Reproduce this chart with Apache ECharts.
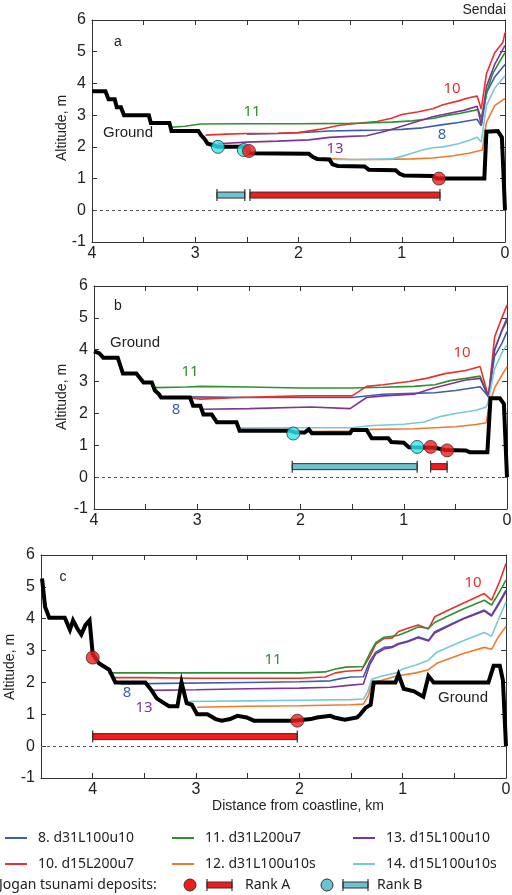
<!DOCTYPE html>
<html>
<head>
<meta charset="utf-8">
<title>Jogan tsunami inundation profiles</title>
<script src="https://cdn.jsdelivr.net/npm/echarts@6/dist/echarts.min.js"></script>
<style>
  html, body { margin: 0; padding: 0; background: #fff; }
  #chart { width: 512px; height: 895px; }
</style>
</head>
<body>
<div id="chart"></div>
<script>
// x = distance from coastline (km), y = altitude (m)

// panel a
const groundA = [[4.0,3.75],[3.87,3.75],[3.84,3.5],[3.78,3.5],[3.76,3.25],[3.72,3.25],[3.69,3.0],[3.45,3.0],[3.43,2.75],[3.25,2.75],[3.23,2.5],[2.97,2.5],[2.94,2.35],[2.91,2.25],[2.88,2.1],[2.82,2.05],[2.78,2.0],[2.52,2.0],[2.48,1.8],[1.9,1.78],[1.86,1.68],[1.82,1.62],[1.7,1.6],[1.67,1.45],[1.62,1.4],[1.36,1.38],[1.32,1.28],[1.06,1.26],[1.02,1.15],[0.98,1.1],[0.7,1.08],[0.66,1.0],[0.2,1.0],[0.18,2.48],[0.07,2.5],[0.03,2.3],[0.0,0.0]]
const line8A = [[2.5,2.4],[2.2,2.42],[2.0,2.45],[1.7,2.5],[1.4,2.52],[1.2,2.53],[1.0,2.55],[0.8,2.6],[0.6,2.7],[0.45,2.77],[0.27,2.87],[0.23,2.66],[0.18,3.7],[0.1,4.2],[0.0,4.6]]
const line10A = [[2.9,2.37],[2.7,2.4],[2.5,2.42],[2.2,2.43],[2.0,2.45],[1.8,2.55],[1.6,2.68],[1.4,2.75],[1.24,2.8],[1.1,2.9],[1.0,3.02],[0.85,3.1],[0.7,3.2],[0.6,3.33],[0.45,3.45],[0.35,3.55],[0.27,3.6],[0.23,3.19],[0.18,4.3],[0.1,4.97],[0.02,5.3],[0.0,5.6]]
const line11A = [[3.23,2.62],[3.1,2.65],[2.95,2.72],[2.5,2.73],[2.0,2.73],[1.5,2.74],[1.34,2.75],[1.1,2.78],[0.9,2.82],[0.69,2.9],[0.55,3.0],[0.44,3.05],[0.3,3.15],[0.26,3.18],[0.23,2.9],[0.17,3.8],[0.12,4.3],[0.05,4.7],[0.0,4.97]]
const line12A = [[1.7,1.63],[1.5,1.6],[1.2,1.6],[0.9,1.62],[0.7,1.65],[0.5,1.72],[0.35,1.8],[0.22,1.9],[0.18,2.77],[0.1,3.3],[0.0,3.53]]
const line13A = [[2.78,2.1],[2.5,2.15],[2.2,2.18],[1.9,2.22],[1.7,2.3],[1.5,2.33],[1.34,2.35],[1.15,2.5],[1.0,2.65],[0.85,2.8],[0.7,2.95],[0.55,3.05],[0.4,3.15],[0.27,3.28],[0.23,2.7],[0.18,3.9],[0.1,4.6],[0.0,5.2]]
const line14A = [[1.65,1.6],[1.4,1.6],[1.1,1.62],[1.0,1.7],[0.9,1.8],[0.8,1.9],[0.7,1.97],[0.6,2.0],[0.45,2.1],[0.35,2.2],[0.27,2.3],[0.23,2.15],[0.18,3.3],[0.1,3.85],[0.0,4.24]]
const dotsA_rankA = [[2.48,1.87],[0.64,1.0]]
const dotsA_rankB = [[2.78,2.0],[2.53,1.9]]
const rangeA_rankA = [[2.47,0.63,0.48]]
const rangeA_rankB = [[2.79,2.52,0.48]]

// panel b
const groundB = [[4.0,3.95],[3.95,3.89],[3.91,3.75],[3.77,3.75],[3.72,3.25],[3.59,3.25],[3.52,2.97],[3.44,2.97],[3.41,2.72],[3.37,2.6],[3.35,2.5],[3.07,2.5],[3.04,2.24],[2.97,2.24],[2.94,1.97],[2.86,1.97],[2.81,1.72],[2.62,1.72],[2.59,1.46],[2.1,1.46],[2.05,1.4],[1.96,1.4],[1.92,1.5],[1.89,1.38],[1.52,1.38],[1.5,1.48],[1.36,1.48],[1.31,1.22],[1.15,1.22],[1.12,1.1],[1.0,1.08],[0.95,0.94],[0.8,0.93],[0.7,0.92],[0.6,0.85],[0.4,0.84],[0.36,0.78],[0.19,0.78],[0.16,2.48],[0.07,2.48],[0.03,2.3],[0.0,0.0]]
const line8B = [[3.1,2.52],[2.5,2.5],[2.0,2.5],[1.5,2.5],[1.2,2.6],[0.9,2.63],[0.7,2.65],[0.5,2.72],[0.26,2.84],[0.18,2.53],[0.12,3.8],[0.05,4.2],[0.0,4.57]]
const line10B = [[3.1,2.5],[2.97,2.45],[2.6,2.5],[2.0,2.55],[1.5,2.55],[1.36,2.85],[1.2,2.9],[0.95,3.0],[0.78,3.1],[0.6,3.25],[0.4,3.35],[0.26,3.47],[0.18,2.53],[0.12,4.4],[0.05,5.0],[0.0,5.4]]
const line11B = [[3.41,2.81],[3.1,2.83],[2.97,2.85],[2.5,2.83],[2.0,2.8],[1.5,2.8],[1.2,2.82],[0.9,2.85],[0.7,2.9],[0.55,3.03],[0.4,3.1],[0.26,3.17],[0.18,2.53],[0.12,4.0],[0.05,4.6],[0.0,4.9]]
const line12B = [[2.1,1.42],[1.5,1.45],[1.31,1.5],[0.9,1.52],[0.5,1.58],[0.3,1.65],[0.2,1.71],[0.17,2.3],[0.12,2.8],[0.05,3.2],[0.0,3.47]]
const line13B = [[2.94,2.13],[2.5,2.15],[1.9,2.2],[1.52,2.15],[1.36,2.5],[1.2,2.55],[0.9,2.6],[0.71,2.8],[0.4,3.05],[0.26,3.1],[0.18,2.53],[0.12,4.0],[0.05,4.6],[0.0,5.0]]
const line14B = [[2.59,1.54],[2.0,1.55],[1.52,1.55],[1.3,1.62],[1.0,1.66],[0.8,1.73],[0.65,1.9],[0.5,2.0],[0.3,2.1],[0.2,2.2],[0.18,2.4],[0.12,3.4],[0.05,3.9],[0.0,4.15]]
const dotsB_rankA = [[0.74,0.95],[0.58,0.84]]
const dotsB_rankB = [[2.07,1.37],[0.87,0.95]]
const rangeB_rankA = [[0.74,0.58,0.33]]
const rangeB_rankB = [[2.08,0.87,0.33]]

// panel c
const groundC = [[4.49,5.26],[4.46,4.37],[4.42,4.03],[4.27,4.03],[4.22,3.65],[4.19,3.95],[4.15,3.7],[4.11,3.5],[4.07,3.8],[4.03,3.95],[4.0,2.9],[3.94,2.6],[3.89,2.5],[3.84,2.4],[3.81,2.2],[3.78,2.0],[3.49,2.0],[3.43,1.75],[3.38,1.5],[3.31,1.35],[3.26,1.25],[3.18,1.25],[3.14,2.0],[3.09,1.35],[3.04,1.3],[2.99,1.0],[2.89,1.0],[2.81,0.85],[2.75,0.8],[2.67,0.85],[2.6,0.95],[2.51,0.9],[2.44,0.8],[2.05,0.8],[1.89,0.85],[1.83,0.9],[1.7,0.95],[1.66,0.9],[1.56,0.83],[1.44,0.9],[1.41,1.0],[1.36,1.2],[1.31,1.3],[1.28,2.0],[1.07,2.0],[1.04,2.25],[0.99,1.8],[0.89,1.72],[0.8,1.55],[0.75,2.2],[0.7,2.0],[0.17,2.0],[0.12,2.52],[0.06,2.52],[0.03,2.07],[0.0,0.0]]
const line8C = [[3.73,1.95],[3.3,1.97],[2.5,2.0],[2.0,2.02],[1.7,2.05],[1.6,2.12],[1.5,2.17],[1.38,2.18],[1.32,2.65],[1.26,2.95],[1.18,3.1],[1.1,3.13],[1.04,3.22],[0.95,3.3],[0.85,3.43],[0.75,3.32],[0.69,3.59],[0.55,3.8],[0.42,4.0],[0.21,4.27],[0.14,4.11],[0.07,4.5],[0.0,4.9]]
const line10C = [[3.8,2.15],[3.5,2.15],[3.0,2.13],[2.5,2.13],[2.0,2.13],[1.75,2.17],[1.65,2.3],[1.55,2.35],[1.4,2.38],[1.32,2.8],[1.26,3.2],[1.18,3.38],[1.1,3.4],[1.04,3.6],[0.95,3.7],[0.85,3.8],[0.75,3.68],[0.69,4.06],[0.55,4.28],[0.42,4.48],[0.21,4.79],[0.14,4.58],[0.07,5.1],[0.0,5.73]]
const line11C = [[3.85,2.3],[3.5,2.3],[3.0,2.3],[2.5,2.3],[2.0,2.3],[1.75,2.33],[1.65,2.42],[1.55,2.48],[1.38,2.5],[1.32,2.9],[1.26,3.25],[1.18,3.42],[1.1,3.45],[1.04,3.48],[0.95,3.6],[0.85,3.74],[0.75,3.7],[0.69,3.88],[0.55,4.1],[0.42,4.3],[0.21,4.58],[0.14,4.43],[0.07,4.8],[0.0,5.21]]
const line12C = [[2.99,1.22],[2.5,1.25],[2.0,1.27],[1.5,1.3],[1.38,1.32],[1.33,1.6],[1.3,2.0],[1.2,2.07],[1.06,2.2],[0.87,2.3],[0.75,2.4],[0.67,2.6],[0.42,2.9],[0.21,3.1],[0.14,3.04],[0.07,3.45],[0.0,3.76]]
const line13C = [[3.44,1.75],[3.0,1.77],[2.5,1.8],[2.0,1.82],[1.7,1.85],[1.55,1.9],[1.38,1.95],[1.32,2.55],[1.26,2.9],[1.18,3.05],[1.1,3.1],[1.04,3.2],[0.95,3.28],[0.85,3.4],[0.75,3.3],[0.69,3.55],[0.55,3.78],[0.42,3.98],[0.21,4.24],[0.14,4.08],[0.07,4.45],[0.0,4.85]]
const line14C = [[3.09,1.4],[2.5,1.42],[2.0,1.44],[1.5,1.46],[1.38,1.48],[1.34,1.7],[1.3,2.1],[1.2,2.2],[1.06,2.3],[1.0,2.42],[0.87,2.55],[0.75,2.7],[0.67,2.95],[0.42,3.3],[0.21,3.57],[0.14,3.45],[0.07,4.0],[0.0,4.53]]
const dotsC_rankA = [[4.0,2.78],[2.02,0.8]]
const rangeC_rankA = [[4.0,2.02,0.3]]

const xTicks = [4, 3, 2, 1, 0]
const yTicks = [-1, 0, 1, 2, 3, 4, 5, 6]

const scenarios = [
  { name: '8. d31L100u10', color: '#3b5fae' },
  { name: '10. d15L200u7', color: '#e8312c' },
  { name: '11. d31L200u7', color: '#2f9030' },
  { name: '12. d31L100u10s', color: '#ee7a30' },
  { name: '13. d15L100u10', color: '#7e3594' },
  { name: '14. d15L100u10s', color: '#76c9d8' }
]
const red = '#f01c1c'
const cyan = '#30e6ee'
const cyanBar = '#6cc2d0'

const panels = [
  { ground: groundA, lines: [line8A, line10A, line11A, line12A, line13A, line14A],
    dotsA: dotsA_rankA, dotsB: dotsA_rankB, rangeA: rangeA_rankA, rangeB: rangeA_rankB,
    grid: { left: 92, right: 7, top: 20, height: 222 }, xMax: 4 },
  { ground: groundB, lines: [line8B, line10B, line11B, line12B, line13B, line14B],
    dotsA: dotsB_rankA, dotsB: dotsB_rankB, rangeA: rangeB_rankA, rangeB: rangeB_rankB,
    grid: { left: 94, right: 5, top: 286, height: 223 }, xMax: 4 },
  { ground: groundC, lines: [line8C, line10C, line11C, line12C, line13C, line14C],
    dotsA: dotsC_rankA, dotsB: [], rangeA: rangeC_rankA, rangeB: [],
    grid: { left: 41, right: 6, top: 555, height: 223 }, xMax: 4.5 }
]

const axisFont = 'Liberation Sans, Arial, sans-serif'
const textFont = 'Noto Sans, sans-serif'

function rangeRenderer(fill) {
  return function (params, api) {
    const a = api.coord([api.value(0), api.value(2)])
    const b = api.coord([api.value(1), api.value(2)])
    const x0 = Math.min(a[0], b[0])
    const x1 = Math.max(a[0], b[0])
    const y = a[1]
    return {
      type: 'group',
      children: [
        { type: 'rect', shape: { x: x0, y: y - 3, width: x1 - x0, height: 6 },
          style: { fill: fill, stroke: '#333', lineWidth: 1 } },
        { type: 'line', shape: { x1: x0, y1: y - 6, x2: x0, y2: y + 6 },
          style: { stroke: '#333', lineWidth: 1.2 } },
        { type: 'line', shape: { x1: x1, y1: y - 6, x2: x1, y2: y + 6 },
          style: { stroke: '#333', lineWidth: 1.2 } }
      ]
    }
  }
}

const grids = []
const xAxes = []
const yAxes = []
const series = []

panels.forEach((p, i) => {
  grids.push(Object.assign({ show: false, outerBoundsMode: 'none', containLabel: false }, p.grid))
  const lineStyle = { color: '#333', width: 1 }
  xAxes.push({
    gridIndex: i, type: 'value', inverse: true, min: 0, max: p.xMax, interval: 0.5,
    axisLine: { lineStyle: lineStyle, onZero: false },
    axisTick: { inside: true, length: 5, lineStyle: lineStyle },
    splitLine: { show: false },
    axisLabel: {
      color: '#222', fontSize: 16, fontFamily: axisFont, margin: 4,
      formatter: v => (xTicks.includes(v) ? String(v) : '')
    }
  })
  xAxes.push({
    gridIndex: i, type: 'value', inverse: true, min: 0, max: p.xMax, interval: 0.5, position: 'top',
    axisLine: { lineStyle: lineStyle, onZero: false },
    axisTick: { inside: true, length: 5, lineStyle: lineStyle },
    splitLine: { show: false }, axisLabel: { show: false }
  })
  yAxes.push({
    gridIndex: i, type: 'value', min: yTicks[0], max: yTicks[yTicks.length - 1], interval: 1,
    axisLine: { show: true, lineStyle: lineStyle, onZero: false },
    axisTick: { inside: true, length: 5, lineStyle: lineStyle },
    splitLine: { show: false },
    axisLabel: { color: '#222', fontSize: 16, fontFamily: axisFont, margin: 6 }
  })
  yAxes.push({
    gridIndex: i, type: 'value', min: yTicks[0], max: yTicks[yTicks.length - 1], interval: 1, position: 'right',
    axisLine: { show: true, lineStyle: lineStyle, onZero: false },
    axisTick: { inside: true, length: 5, lineStyle: lineStyle },
    splitLine: { show: false }, axisLabel: { show: false }
  })

  const xi = 2 * i
  const yi = 2 * i

  p.lines.forEach((data, k) => {
    series.push({
      name: scenarios[k].name, type: 'line', xAxisIndex: xi, yAxisIndex: yi,
      data: data, showSymbol: false, color: scenarios[k].color,
      lineStyle: { width: 1.6, color: scenarios[k].color }, z: 2
    })
  })

  series.push({
    name: 'Ground', type: 'line', xAxisIndex: xi, yAxisIndex: yi,
    data: p.ground, showSymbol: false,
    lineStyle: { width: 4, color: '#000', join: 'miter' }, z: 3,
    markLine: {
      silent: true, symbol: 'none', label: { show: false },
      lineStyle: { type: [3, 3], color: '#555', width: 1 },
      data: [{ yAxis: 0 }]
    }
  })

  series.push({
    type: 'custom', xAxisIndex: xi, yAxisIndex: yi, data: p.rangeA,
    renderItem: rangeRenderer(red), z: 4
  })
  series.push({
    type: 'custom', xAxisIndex: xi, yAxisIndex: yi, data: p.rangeB,
    renderItem: rangeRenderer(cyanBar), z: 4
  })
  series.push({
    type: 'scatter', xAxisIndex: xi, yAxisIndex: yi, data: p.dotsB,
    symbolSize: 13, itemStyle: { color: cyan, borderColor: '#333', borderWidth: 1 }, z: 5
  })
  series.push({
    type: 'scatter', xAxisIndex: xi, yAxisIndex: yi, data: p.dotsA,
    symbolSize: 13, itemStyle: { color: red, borderColor: '#333', borderWidth: 1 }, z: 5
  })
})

function txt(x, y, text, color, size, align, font, rotation) {
  return {
    type: 'text', x: x, y: y, silent: true, rotation: rotation || 0,
    style: { text: text, fill: color, font: (size || 15) + 'px ' + (font || axisFont),
             align: align || 'center', verticalAlign: 'middle' }
  }
}

const c8 = scenarios[0].color, c10 = scenarios[1].color, c11 = scenarios[2].color, c13 = scenarios[4].color
const up = Math.PI / 2

const labels = [
  txt(506, 10, 'Sendai', '#222', 14, 'right'),
  txt(62, 128, 'Altitude, m', '#222', 14, 'center', axisFont, up),
  txt(62, 397, 'Altitude, m', '#222', 14, 'center', axisFont, up),
  txt(10, 667, 'Altitude, m', '#222', 14, 'center', axisFont, up),
  txt(118, 42, 'a', '#222', 14), txt(128, 133, 'Ground', '#222', 15),
  txt(252, 112, '11', c11, 15, 'center', textFont), txt(452, 89, '10', c10, 15, 'center', textFont),
  txt(442, 135, '8', c8, 15, 'center', textFont), txt(335, 149, '13', c13, 15, 'center', textFont),
  txt(118, 306, 'b', '#222', 14), txt(135, 343, 'Ground', '#222', 15),
  txt(190, 372, '11', c11, 15, 'center', textFont), txt(176, 410, '8', c8, 15, 'center', textFont),
  txt(462, 353, '10', c10, 15, 'center', textFont),
  txt(63, 577, 'c', '#222', 14), txt(463, 698, 'Ground', '#222', 15),
  txt(273, 660, '11', c11, 15, 'center', textFont), txt(127, 693, '8', c8, 15, 'center', textFont),
  txt(144, 708, '13', c13, 15, 'center', textFont), txt(473, 583, '10', c10, 15, 'center', textFont),
  txt(298, 806, 'Distance from coastline, km', '#222', 14)
]

// deposit legend row
function depositIcon(x, y, fill) {
  return [
    { type: 'rect', shape: { x: x, y: y - 3, width: 25, height: 6 }, style: { fill: fill, stroke: '#333', lineWidth: 1 } },
    { type: 'line', shape: { x1: x, y1: y - 6, x2: x, y2: y + 6 }, style: { stroke: '#333', lineWidth: 1.2 } },
    { type: 'line', shape: { x1: x + 25, y1: y - 6, x2: x + 25, y2: y + 6 }, style: { stroke: '#333', lineWidth: 1.2 } }
  ]
}
const legendRow = [
  txt(-1, 885, 'Jogan tsunami deposits:', '#222', 14, 'left', textFont),
  { type: 'circle', shape: { cx: 190, cy: 885, r: 6 }, style: { fill: red, stroke: '#333', lineWidth: 1 } },
  ...depositIcon(207, 885, red),
  txt(245, 885, 'Rank A', '#222', 14, 'left', textFont),
  { type: 'circle', shape: { cx: 327, cy: 885, r: 6 }, style: { fill: cyanBar, stroke: '#333', lineWidth: 1 } },
  ...depositIcon(343, 885, cyanBar),
  txt(377, 885, 'Rank B', '#222', 14, 'left', textFont)
]

function legendCol(left, names) {
  return {
    left: left, top: 825, orient: 'vertical', itemGap: 10,
    itemWidth: 22, itemHeight: 2, icon: 'rect',
    data: names,
    textStyle: { color: '#222', fontSize: 14, fontFamily: textFont, lineHeight: 16, padding: [0, 0, 0, 6] }
  }
}

const chart = echarts.init(document.getElementById('chart'))
chart.setOption({
  animation: false,
  backgroundColor: '#fff',
  grid: grids,
  xAxis: xAxes,
  yAxis: yAxes,
  legend: [
    legendCol(0, [scenarios[0].name, scenarios[1].name]),
    legendCol(167, [scenarios[2].name, scenarios[3].name]),
    legendCol(348, [scenarios[4].name, scenarios[5].name])
  ],
  graphic: labels.concat(legendRow),
  series: series
})
window.addEventListener('resize', () => chart.resize())
</script>
</body>
</html>
